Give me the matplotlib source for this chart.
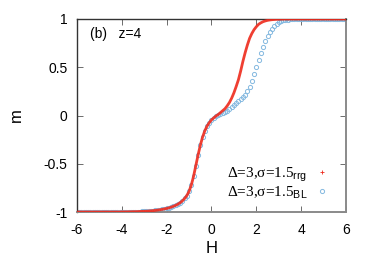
import numpy as np
import matplotlib
matplotlib.use('Agg')
import matplotlib.pyplot as plt
from matplotlib.lines import Line2D

plt.rcParams['font.family'] = ['Liberation Sans', 'DejaVu Sans']
plt.rcParams['mathtext.fontset'] = 'custom'
plt.rcParams['mathtext.rm'] = 'Liberation Sans'

# field values, step 0.1 from -6 to 6
H = np.round(np.arange(-60, 61) / 10.0, 1)

m_low = [-1.0] * 20 + [
    -0.999, -0.999, -0.999, -0.998, -0.998, -0.997, -0.997, -0.996, -0.995, -0.994,
    -0.993, -0.992, -0.990, -0.988, -0.986, -0.983, -0.980, -0.977, -0.973, -0.968,
    -0.963, -0.957, -0.950, -0.941, -0.931, -0.919, -0.904, -0.885, -0.86, -0.83,
    -0.785, -0.72, -0.63, -0.52, -0.41, -0.31, -0.225, -0.16, -0.11, -0.075, -0.045]

m_rrg = m_low + [
    -0.025, -0.005, 0.01, 0.03, 0.05, 0.07, 0.10, 0.135, 0.18, 0.235,
    0.30, 0.37, 0.46, 0.56, 0.65, 0.73, 0.80, 0.85, 0.89, 0.92,
    0.945, 0.96, 0.972, 0.98, 0.986, 0.99, 0.993, 0.995, 0.997, 0.998,
    0.999, 0.999] + [1.0] * 28

m_BL = m_low + [
    -0.025, -0.01, 0.005, 0.015, 0.025, 0.035, 0.05, 0.07, 0.09, 0.11,
    0.13, 0.15, 0.17, 0.19, 0.215, 0.25, 0.30, 0.36, 0.43, 0.50,
    0.57, 0.645, 0.71, 0.77, 0.82, 0.865, 0.90, 0.93, 0.95, 0.966,
    0.977, 0.985, 0.99, 0.994, 0.996, 0.998, 0.999, 0.999] + [1.0] * 22

blue = '#84b9e0'
red = '#ee2a1c'

fig = plt.figure(figsize=(3.74, 2.62), dpi=100)
ax = fig.add_axes([77 / 374, 50 / 262, 269 / 374, 193 / 262])

ax.plot(H, m_BL, 'o', ms=3.0, mfc='none', mec=blue, mew=0.7, zorder=2)
ax.plot(H, m_rrg, '-', color=red, lw=2.0, alpha=0.9, zorder=3)

ax.set_xlim(-6, 6)
ax.set_ylim(-1, 1)
ax.set_xticks([-6, -4, -2, 0, 2, 4, 6])
ax.set_yticks([-1, -0.5, 0, 0.5, 1])
ax.set_yticklabels(['-1', '-0.5', '0', '0.5', '1'])
ax.set_xticklabels(['-6', '-4', '-2', '0', '2', '4', '6'])
ax.tick_params(direction='in', length=4, width=0.6, top=True, right=True,
               labelsize=10, color='#555555')
ax.tick_params(axis='x', pad=8)
ax.tick_params(axis='y', pad=7)

for s in ['left', 'top']:
    ax.spines[s].set_color('#333333')
    ax.spines[s].set_linewidth(1.0)
for s in ['right', 'bottom']:
    ax.spines[s].set_color('#8a8a8a')
    ax.spines[s].set_linewidth(1.4)

ax.set_xlabel('H', fontsize=12, labelpad=3)
ax.set_ylabel('m', fontsize=12, labelpad=14)

ax.text(0.05, 0.9, '(b)   z=4', transform=ax.transAxes, fontsize=10)

handles = [Line2D([], [], ls='none', marker='+', ms=3, color=red, mew=0.6),
           Line2D([], [], ls='none', marker='o', ms=3, mfc='none', mec=blue, mew=0.7)]
labels = ['Δ=3,σ=1.5$_{\\rm rrg}$', 'Δ=3,σ=1.5$_{\\rm BL}$']
leg = ax.legend(handles, labels, loc='lower right', markerfirst=False, frameon=False,
                prop={'family': 'Liberation Serif', 'size': 11},
                handlelength=1.0, handletextpad=0.5, labelspacing=0.0,
                borderaxespad=0.2, bbox_to_anchor=(0.975, 0.01))

fig.savefig('out.png', dpi=100)
